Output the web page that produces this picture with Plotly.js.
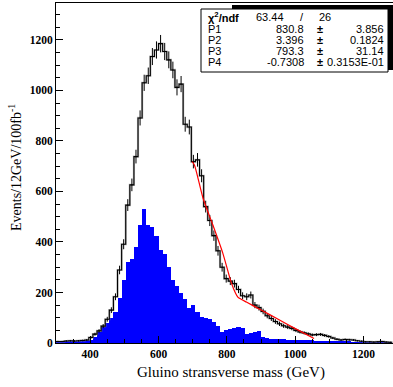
<!DOCTYPE html>
<html>
<head>
<meta charset="utf-8">
<script src="https://cdn.plot.ly/plotly-3.0.1.min.js"></script>
<style>
  html, body { margin: 0; padding: 0; background: #fff; }
  #chart { width: 393px; height: 387px; }
</style>
</head>
<body>
<div id="chart"></div>
<script>
// ---- data ----
const binStart = 300;   // GeV, lower edge of the first bin
const binWidth = 12;    // GeV per bin

// all events (black histogram), 12 GeV bins from 300 GeV
const allEvents = [
  6, 6, 8, 9, 8, 9, 10, 12,
  22, 35, 48, 67, 94, 130, 183, 289, 391, 546,
  626, 738, 891, 1030, 1058, 1134, 1160, 1185, 1154, 1121,
  1081, 1012, 1025, 866, 855, 718, 725, 662, 540, 485,
  425, 365, 300, 255, 245, 235, 212, 187, 183, 190,
  150, 140, 125, 108, 97, 85, 76, 68, 63, 58,
  50, 44, 40, 36, 32, 33, 34, 30, 26, 20,
  15, 12, 14, 13, 12, 9, 7, 5, 5, 4,
  5, 6, 4, 3
];

// signal events (blue filled histogram), same bins
const signalEvents = [
  5, 6, 7, 8, 7, 8, 9, 10,
  12, 22, 45, 65, 78, 98, 122, 177, 250, 322,
  331, 381, 467, 529, 467, 461, 424, 368, 351, 302,
  250, 226, 197, 173, 137, 150, 124, 104, 98, 94,
  84, 67, 45, 50, 55, 60, 62, 58, 35, 40,
  42, 47, 22, 20, 17, 16, 16, 15, 12, 12,
  11, 11, 10, 11, 10, 9, 8, 8, 7, 7,
  7, 6, 6, 6, 5, 5, 4, 4, 3, 3,
  3, 2, 2, 2
];

// fit curve (red)
const fitMass   = [698, 705, 730, 759, 788, 813, 825, 832, 838, 857, 900, 950, 1000, 1055];
const fitEvents = [718, 705, 574, 467, 356, 238, 198, 182, 176, 162, 131, 94, 57, 18];

// fit statistics box
const chi2Text = ["63.44", "/", "26"];
const parNames  = ["P1", "P2", "P3", "P4"];
const parValues = ["830.8", "3.396", "793.3", "-0.7308"];
const parErrors = ["3.856", "0.1824", "31.14", "0.3153E-01"];

const xTitle = "Gluino stransverse mass (GeV)";
const yTitle = "Events/12GeV/100fb<sup>-1</sup>";

// ---- derived bin positions ----
const nBins = allEvents.length;
const binCenters = allEvents.map((_, i) => binStart + binWidth * (i + 0.5));
const binEdges = [];
for (let i = 0; i <= nBins; i++) binEdges.push(binStart + binWidth * i);
const stepY = allEvents.concat([allEvents[nBins - 1]]);

// ---- geometry helpers (pixel -> paper) ----
const L = 56, T = 3, W = 337, H = 340;
const px = x => (x - L) / W;
const py = y => (T + H - y) / H;

const traces = [
  {
    type: 'bar', x: binCenters, y: signalEvents, width: binWidth,
    marker: { color: '#0000ff', line: { width: 0 } },
    hoverinfo: 'skip', showlegend: false
  },
  {
    type: 'scatter', mode: 'lines', x: binEdges, y: stepY,
    line: { shape: 'hv', color: 'rgba(140,140,140,0.6)', width: 2.2 },
    hoverinfo: 'skip', showlegend: false
  },
  {
    type: 'scatter', mode: 'lines', x: binEdges, y: stepY,
    line: { shape: 'hv', color: '#000', width: 1.1 },
    hoverinfo: 'skip', showlegend: false
  },
  {
    type: 'scatter', mode: 'markers', x: binCenters, y: allEvents,
    marker: { size: 1, color: '#000' },
    error_y: { type: 'sqrt', color: '#000', thickness: 1, width: 0 },
    hoverinfo: 'skip', showlegend: false
  },
  {
    type: 'scatter', mode: 'lines', x: fitMass, y: fitEvents,
    line: { color: '#ff0000', width: 1.2, shape: 'spline', smoothing: 0.6 },
    hoverinfo: 'skip', showlegend: false
  }
];

const statFont = { family: 'Liberation Sans, Arial, sans-serif', size: 11, color: '#000' };
const rowY = [17, 29, 40, 51, 62];
const annotations = [
  { text: 'χ<sup>2</sup>/ndf', x: px(206), y: py(rowY[0]), xanchor: 'left', font: Object.assign({}, statFont, { weight: 'bold' }) },
  { text: chi2Text[0], x: px(286), y: py(rowY[0]), xanchor: 'right', font: statFont },
  { text: chi2Text[1], x: px(302), y: py(rowY[0]), xanchor: 'center', font: statFont },
  { text: chi2Text[2], x: px(317), y: py(rowY[0]), xanchor: 'left', font: statFont }
];
parNames.forEach((n, i) => {
  const y = py(rowY[i + 1]);
  annotations.push({ text: n, x: px(206), y, xanchor: 'left', font: statFont });
  annotations.push({ text: parValues[i], x: px(306), y, xanchor: 'right', font: statFont });
  annotations.push({ text: '±', x: px(320), y, xanchor: 'center', font: Object.assign({}, statFont, { weight: 'bold' }) });
  annotations.push({ text: parErrors[i], x: px(386), y, xanchor: 'right', font: statFont });
});
annotations.forEach(a => { a.xref = 'paper'; a.yref = 'paper'; a.yanchor = 'middle'; a.showarrow = false; });

annotations.push({
  text: xTitle, xref: 'paper', yref: 'paper', x: px(231), y: py(372),
  xanchor: 'center', yanchor: 'middle', showarrow: false,
  font: { family: 'Liberation Serif, Times New Roman, serif', size: 15, color: '#000' }
});
annotations.push({
  text: yTitle, xref: 'paper', yref: 'paper', x: px(15), y: py(168),
  xanchor: 'center', yanchor: 'middle', showarrow: false, textangle: -90,
  font: { family: 'Liberation Serif, Times New Roman, serif', size: 14, color: '#000' }
});

const shapes = [
  { type: 'rect', xref: 'paper', yref: 'paper', x0: px(232), x1: px(393), y0: py(70), y1: py(5),
    fillcolor: '#000', line: { width: 0 } },
  { type: 'rect', xref: 'paper', yref: 'paper', x0: px(201), x1: px(388), y0: py(72), y1: py(9),
    fillcolor: '#fff', line: { color: '#000', width: 1 } }
];

const tickFont = { family: 'Liberation Serif, Times New Roman, serif', size: 11.5, weight: 'bold', color: '#000' };

const layout = {
  width: 393, height: 387,
  margin: { l: L, r: 393 - L - W, t: T, b: 387 - T - H },
  paper_bgcolor: '#fff', plot_bgcolor: '#fff',
  bargap: 0,
  showlegend: false,
  xaxis: {
    range: [300, 1286], tick0: 0, dtick: 200,
    ticks: 'inside', ticklen: 7, tickwidth: 1, tickcolor: '#000',
    minor: { dtick: 50, ticks: 'inside', ticklen: 4, tickcolor: '#000', showgrid: false },
    showgrid: false, zeroline: false,
    showline: true, linecolor: '#000', linewidth: 1, mirror: true,
    tickfont: tickFont
  },
  yaxis: {
    range: [0, 1346], tick0: 0, dtick: 200,
    ticks: 'inside', ticklen: 7, tickwidth: 1, tickcolor: '#000',
    minor: { dtick: 50, ticks: 'inside', ticklen: 4, tickcolor: '#000', showgrid: false },
    showgrid: false, zeroline: false,
    showline: true, linecolor: '#000', linewidth: 1, mirror: true,
    tickfont: tickFont
  },
  shapes, annotations
};

Plotly.newPlot('chart', traces, layout, { staticPlot: true, displayModeBar: false });
</script>
</body>
</html>
